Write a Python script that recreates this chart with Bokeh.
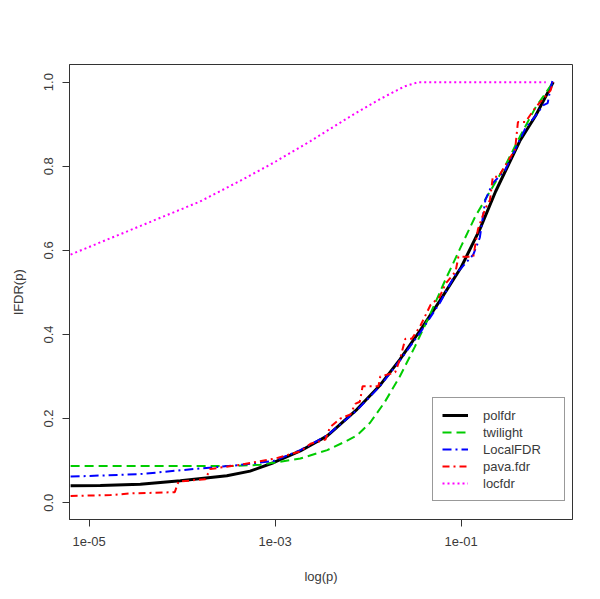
import numpy as np
from bokeh.plotting import figure
from bokeh.models import (Range1d, FixedTicker, CustomJSTickFormatter, Legend, LegendItem)
from bokeh.embed import file_html
from bokeh.resources import INLINE

# ---- data (x given as log10(p)) ----
polfdr_lp = [-5.20, -4.88, -4.45, -4.02, -3.52, -3.27, -3.02, -2.73, -2.44, -2.12, -1.87,
             -1.66, -1.44, -1.23, -1.00, -0.80, -0.63, -0.50, -0.37, -0.20, -0.01]
polfdr_y = [0.040, 0.041, 0.044, 0.052, 0.064, 0.075, 0.095, 0.123, 0.159, 0.222, 0.28,
            0.34, 0.41, 0.48, 0.56, 0.65, 0.74, 0.80, 0.86, 0.92, 1.0]

twilight_lp = [-5.20, -3.48, -3.16, -3.02, -2.73, -2.44, -2.25, -2.12, -1.98, -1.82, -1.66,
               -1.50, -1.33, -1.17, -1.00, -0.85, -0.69, -0.53, -0.37, -0.20, -0.01]
twilight_y = [0.087, 0.087, 0.090, 0.095, 0.105, 0.125, 0.145, 0.160, 0.19, 0.24, 0.30,
              0.37, 0.45, 0.53, 0.61, 0.68, 0.74, 0.80, 0.87, 0.94, 1.0]

localfdr_lp = [-5.20, -4.45, -3.88, -3.45, -3.02, -2.73, -2.44, -2.12, -1.87, -1.66, -1.44,
               -1.23, -1.07, -0.93, -0.87, -0.80, -0.74, -0.66, -0.53, -0.42, -0.31, -0.20,
               -0.12, -0.07, -0.04, -0.01]
localfdr_y = [0.062, 0.068, 0.080, 0.088, 0.099, 0.125, 0.160, 0.220, 0.278, 0.338, 0.405,
              0.475, 0.54, 0.575, 0.59, 0.63, 0.72, 0.76, 0.79, 0.84, 0.89, 0.92,
              0.945, 0.95, 0.985, 1.01]

pava_lp = [-5.20, -4.77, -4.56, -4.08, -4.04, -3.75, -3.70, -3.38, -3.00, -2.73, -2.62, -2.46,
           -2.41, -2.30, -2.19, -2.14, -2.09, -2.06, -1.89, -1.87, -1.71, -1.66, -1.60, -1.53,
           -1.44, -1.33, -1.23, -1.17, -1.06, -1.03, -0.87, -0.82, -0.74, -0.69, -0.66, -0.60,
           -0.53, -0.42, -0.39, -0.31, -0.20, -0.04, -0.01]
pava_y = [0.016, 0.018, 0.022, 0.025, 0.050, 0.056, 0.080, 0.090, 0.105, 0.122, 0.14, 0.15,
          0.18, 0.20, 0.21, 0.235, 0.24, 0.277, 0.277, 0.30, 0.31, 0.34, 0.39, 0.39,
          0.42, 0.47, 0.49, 0.52, 0.55, 0.585, 0.585, 0.65, 0.70, 0.72, 0.775, 0.775,
          0.80, 0.84, 0.905, 0.905, 0.94, 0.98, 1.0]

locfdr_lp = [-5.20, -3.81, -3.38, -3.02, -2.62, -2.16, -1.87, -1.61, -1.46, -0.09]
locfdr_y = [0.59, 0.716, 0.765, 0.808, 0.86, 0.923, 0.96, 0.99, 1.0, 1.0]

x_ticks = [1e-5, 1e-3, 1e-1]
y_ticks = [0.0, 0.2, 0.4, 0.6, 0.8, 1.0]
y_tick_labels = ["0.0", "0.2", "0.4", "0.6", "0.8", "1.0"]

FONT = "Liberation Sans"
TXT = "#3a3a3a"

p = figure(width=596, height=595, x_axis_type="log", output_backend="svg",
           toolbar_location=None,
           x_range=Range1d(10 ** -5.212, 10 ** 0.197), y_range=Range1d(-0.04, 1.042),
           min_border_left=69, min_border_right=24, min_border_top=64, min_border_bottom=76)
p.xgrid.visible = False
p.ygrid.visible = False
p.outline_line_color = "#333333"
p.outline_line_width = 1
p.background_fill_color = "white"
p.border_fill_color = "white"

def P(lp):
    return [10 ** v for v in lp]

series = [
    ("polfdr", polfdr_lp, polfdr_y, "black", 3, "solid"),
    ("twilight", twilight_lp, twilight_y, "#00cc00", 2, "9 5"),
    ("LocalFDR", localfdr_lp, localfdr_y, "#0000ff", 2, "9 4 2 4"),
    ("pava.fdr", pava_lp, pava_y, "#ff0000", 2, "7 4 2 4"),
    ("locfdr", locfdr_lp, locfdr_y, "#ff00ff", 2, "2 3"),
]
items = []
for name, lp, yv, col, lw, dash in series:
    r = p.line(P(lp), yv, line_color=col, line_width=lw, line_dash=dash)
    items.append(LegendItem(label=name, renderers=[r]))

# axes
for ax in (p.xaxis[0], p.yaxis[0]):
    ax.axis_line_color = "#333333"
    ax.major_tick_line_color = "#333333"
    ax.major_tick_in = 0
    ax.major_tick_out = 7
    ax.minor_tick_line_color = None
    ax.major_label_text_font = FONT
    ax.major_label_text_font_size = "13px"
    ax.major_label_text_color = TXT
    ax.axis_label_text_font = FONT
    ax.axis_label_text_font_size = "13px"
    ax.axis_label_text_font_style = "normal"
    ax.axis_label_text_color = TXT

p.xaxis.ticker = FixedTicker(ticks=x_ticks)
p.xaxis.formatter = CustomJSTickFormatter(code="""
const e = Math.round(Math.log10(tick));
const s = String(Math.abs(e)).padStart(2, '0');
return '1e' + (e < 0 ? '-' : '+') + s;
""")
p.xaxis.axis_label = "log(p)"
p.xaxis.major_label_standoff = 10
p.xaxis.axis_label_standoff = 20

p.yaxis.ticker = FixedTicker(ticks=y_ticks)
p.yaxis.major_label_overrides = {v: s for v, s in zip(y_ticks, y_tick_labels)}
p.yaxis.major_label_orientation = "vertical"
p.yaxis.axis_label = "lFDR(p)"
p.yaxis.major_label_standoff = 9
p.yaxis.axis_label_standoff = 16

legend = Legend(items=items, location=(363, 18), margin=0, padding=9, spacing=1,
                glyph_width=26, glyph_height=16, label_height=16, label_width=72,
                label_standoff=15, label_text_font=FONT, label_text_font_size="13px",
                label_text_color=TXT, border_line_color="#333333", border_line_width=1,
                background_fill_color="white", background_fill_alpha=1.0)
p.add_layout(legend, "center")

open("out.html", "w").write(file_html(p, INLINE))
